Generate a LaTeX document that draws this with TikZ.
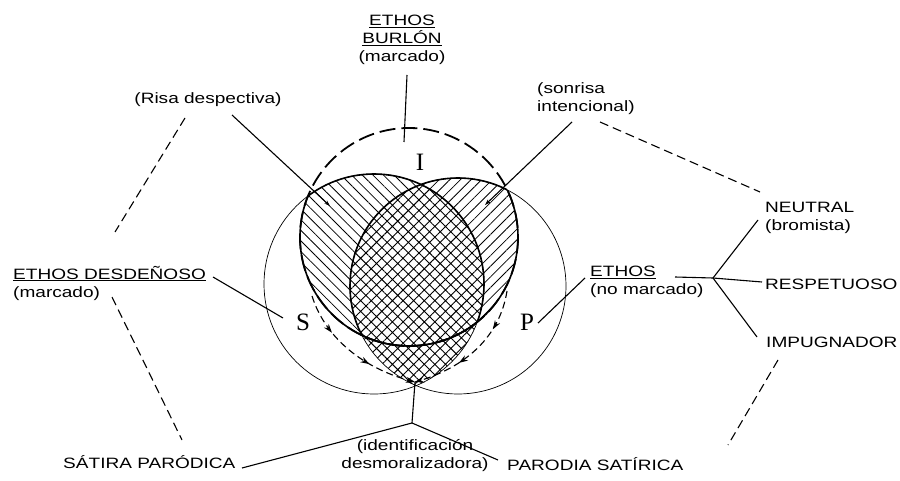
\documentclass[tikz,border=0pt]{standalone}
\usepackage{fontspec}
\newfontfamily\etiqueta{Liberation Sans}[FakeStretch=1.27]
\newfontfamily\letra{Liberation Serif}
\usetikzlibrary{patterns.meta,decorations.markings,arrows.meta}

\tikzset{
  texto/.style={font=\etiqueta\fontsize{15}{18}\selectfont, inner sep=0pt},
  sigla/.style={font=\letra\fontsize{25}{25}\selectfont, inner sep=0pt},
  enlace/.style={line width=1.1pt},
  discontinuo/.style={line width=1.1pt, dash pattern=on 9pt off 5pt},
  borde/.style={line width=1.6pt},
  flechas/.style={line width=1.1pt, dash pattern=on 7pt off 4pt,
    decoration={markings,
      mark=at position 0.3 with {\arrow{Stealth[length=9pt,width=6pt]}},
      mark=at position 0.65 with {\arrow{Stealth[length=9pt,width=6pt]}},
      mark=at position 1 with {\arrow{Stealth[length=9pt,width=6pt]}}},
    postaction={decorate}}
}

\begin{document}
\begin{tikzpicture}[x=1pt,y=-1pt]
  \useasboundingbox (0,0) rectangle (900,481);

  % Centros y radios de los circulos
  \def\sx{374} \def\sy{284} \def\sr{110}   % S
  \def\px{458} \def\py{286} \def\pr{108}   % P
  \def\ix{409} \def\iy{237} \def\ir{109}   % I

  % Zonas rayadas
  \begin{scope}
    \clip (\ix,\iy) circle[radius=\ir];
    \fill[pattern={Lines[angle=-45,distance=7.5pt,line width=0.8pt]}] (\sx,\sy) circle[radius=\sr];
    \fill[pattern={Lines[angle=45,distance=7.5pt,line width=0.8pt]}] (\px,\py) circle[radius=\pr];
  \end{scope}
  \begin{scope}
    \clip (\sx,\sy) circle[radius=\sr];
    \fill[white] (\px,\py) circle[radius=\pr];
    \fill[pattern={Hatch[angle=45,distance=7.5pt,line width=0.9pt]}] (\px,\py) circle[radius=\pr];
  \end{scope}

  % Circulos S y P
  \draw[line width=0.7pt] (\sx,\sy) circle[radius=\sr];
  \draw[line width=0.7pt] (\px,\py) circle[radius=\pr];
  \begin{scope}
    \clip (\ix,\iy) circle[radius=\ir];
    \draw[borde] (\sx,\sy) circle[radius=\sr];
    \draw[borde] (\px,\py) circle[radius=\pr];
  \end{scope}

  % Circulo I
  \draw[line width=1.8pt, dash pattern=on 16pt off 6pt] (\ix,\iy) circle[radius=\ir];
  \begin{scope}
    \clip (\sx,\sy) circle[radius=\sr];
    \draw[borde] (\ix,\iy) circle[radius=\ir];
  \end{scope}
  \begin{scope}
    \clip (\px,\py) circle[radius=\pr];
    \draw[borde] (\ix,\iy) circle[radius=\ir];
  \end{scope}

  % Flechas hacia el vertice inferior
  \coordinate (vertice) at (415,382);
  \draw[flechas] (312,296) .. controls (326,340) and (366,370) .. (vertice);
  \draw[flechas] (507,291) .. controls (500,336) and (466,368) .. (vertice);

  % Letras
  \node[sigla] (I) at (420,162) {I};
  \node[sigla] (S) at (303,322) {S};
  \node[sigla] (P) at (527,322) {P};

  % Etiquetas
  \node[texto, align=center] (burlon) at (402,40) {\underline{ETHOS}\\\underline{BURLÓN}\\(marcado)};
  \node[texto] (risa) at (208,100) {(Risa despectiva)};
  \node[texto, align=left, anchor=west] (sonrisa) at (537,99) {(sonrisa\\intencional)};
  \node[texto, align=left, anchor=west] (desdenoso) at (13,283) {\underline{ETHOS DESDEÑOSO}\\(marcado)};
  \node[texto, align=left, anchor=west] (nomarcado) at (590,282) {\underline{ETHOS}\\(no marcado)};
  \node[texto, align=left, anchor=west] (neutral) at (765,218) {NEUTRAL\\(bromista)};
  \node[texto, anchor=west] (respetuoso) at (765,284) {RESPETUOSO};
  \node[texto, anchor=west] (impugnador) at (766,342) {IMPUGNADOR};
  \node[texto, anchor=west] (satira) at (63,462) {SÁTIRA PARÓDICA};
  \node[texto, align=center] (identif) at (415,456) {(identificación\\desmoralizadora)};
  \node[texto, anchor=west] (parodia) at (507,464) {PARODIA SATÍRICA};

  % Puntos de los enlaces
  \coordinate (burlonA) at (407,75);   \coordinate (burlonB) at (404,142);
  \coordinate (risaA) at (232,115);    \coordinate (risaB) at (330,206);
  \coordinate (sonrisaA) at (572,122); \coordinate (sonrisaB) at (485,205);
  \coordinate (desdA) at (213,277);    \coordinate (desdB) at (283,318);
  \coordinate (pA) at (538,323);       \coordinate (pB) at (585,278);
  \coordinate (ethosA) at (675,277);   \coordinate (cruce) at (713,278);
  \coordinate (neutralB) at (758,220); \coordinate (respB) at (762,282);
  \coordinate (impugB) at (757,337);
  \coordinate (abajo) at (412,423);
  \coordinate (satiraB) at (242,468);  \coordinate (parodiaB) at (498,460);

  % Enlaces
  \draw[enlace] (burlonA) -- (burlonB);
  \draw[enlace, -{Stealth[length=6pt,width=4pt]}] (risaA) -- (risaB);
  \draw[enlace, -{Stealth[length=6pt,width=4pt]}] (sonrisaA) -- (sonrisaB);
  \draw[enlace] (desdA) -- (desdB);
  \draw[enlace] (pA) -- (pB);
  \draw[enlace] (ethosA) -- (cruce);
  \draw[enlace] (cruce) -- (neutralB);
  \draw[enlace] (cruce) -- (respB);
  \draw[enlace] (cruce) -- (impugB);
  \draw[enlace] (vertice) -- (abajo);
  \draw[enlace] (abajo) -- (satiraB);
  \draw[enlace] (abajo) -- (parodiaB);

  % Enlaces discontinuos
  \coordinate (d1A) at (185,118); \coordinate (d1B) at (115,232);
  \coordinate (d2A) at (112,297); \coordinate (d2B) at (182,440);
  \coordinate (d3A) at (600,122); \coordinate (d3B) at (760,192);
  \coordinate (d4A) at (778,360); \coordinate (d4B) at (728,445);
  \draw[discontinuo] (d1A) -- (d1B);
  \draw[discontinuo] (d2A) -- (d2B);
  \draw[discontinuo] (d3A) -- (d3B);
  \draw[discontinuo] (d4A) -- (d4B);
\end{tikzpicture}
\end{document}
